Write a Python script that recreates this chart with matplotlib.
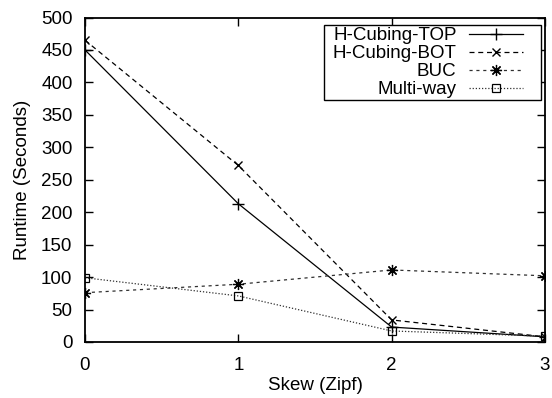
import matplotlib
matplotlib.use("Agg")
import matplotlib.pyplot as plt
from matplotlib.patches import Rectangle

plt.rcParams['font.family'] = ['Liberation Sans', 'DejaVu Sans']
plt.rcParams['font.size'] = 13.5

skew = [0, 1, 2, 3]
hcubing_top = [450, 213, 23, 8]
hcubing_bot = [465, 272, 34, 8]
buc = [76, 89, 111, 102]
multiway = [99, 71, 17, 9]

W, H = 552, 398
fig = plt.figure(figsize=(W / 100, H / 100), dpi=100)
ax = fig.add_axes([85 / W, 1 - 342 / H, 460 / W, 324.5 / H])

lw = 0.9
ax.plot(skew, hcubing_top, color='black', lw=lw, ls='-', marker='+', ms=8, mew=1.0,
        label='H-Cubing-TOP')
ax.plot(skew, hcubing_bot, color='black', lw=lw, ls=(0, (4, 3)), marker='x', ms=6, mew=1.0,
        label='H-Cubing-BOT')
ax.plot(skew, buc, color='#303030', lw=lw, ls=(0, (2.5, 3)), marker=(8, 2, 0), ms=8, mew=0.9,
        mec='black', label='BUC')
ax.plot(skew, multiway, color='#303030', lw=lw, ls=(0, (1, 1.5)), marker='s', ms=6, mew=0.9,
        mfc='none', mec='black', label='Multi-way')

ax.set_xlim(0, 3)
ax.set_ylim(0, 500)
ax.set_xticks(skew)
ax.set_yticks(range(0, 501, 50))
ax.tick_params(direction='in', length=6, width=1, top=True, right=True)
ax.tick_params(axis='x', pad=10.6)
ax.tick_params(axis='y', pad=9)
for s in ax.spines.values():
    s.set_linewidth(1.3)

ax.set_xlabel('Skew (Zipf)', labelpad=2)
ax.set_ylabel('Runtime (Seconds)', labelpad=7.5)

# key box drawn separately so its padding can differ left/right
ax.add_patch(Rectangle((324 / W, 1 - 100 / H), 217 / W, 75 / H,
                       transform=fig.transFigure, clip_on=False, facecolor='white',
                       edgecolor='black', lw=1.0, zorder=4))
leg = ax.legend(loc='upper right', bbox_to_anchor=(523 / W, 1 - 27 / H),
                bbox_transform=fig.transFigure, markerfirst=False, frameon=False,
                borderpad=0, labelspacing=0.05, handlelength=2.9, handletextpad=0.64,
                borderaxespad=0, numpoints=1)
leg.set_zorder(5)
for t in leg.get_texts():
    t.set_ha('right')
leg._legend_box.align = 'right'

fig.savefig('out.png', dpi=100)
